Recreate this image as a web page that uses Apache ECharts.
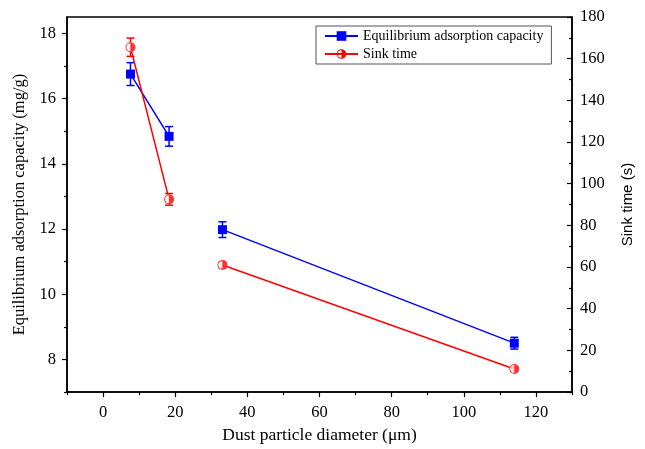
<!DOCTYPE html>
<html><head><meta charset="utf-8">
<script src="https://cdn.jsdelivr.net/npm/echarts@6/dist/echarts.min.js"></script>
<style>html,body{margin:0;padding:0;background:#fff}#c{width:645px;height:449px}</style>
</head><body><div id="c"></div>
<script>
const diameter = [7.6, 18.3, 33.1, 114];
const capacity = [16.75, 14.84, 11.98, 8.5];
const capacityErr = [0.35, 0.3, 0.24, 0.18];
const sinkTime = [165.5, 92.5, 61, 11.1];
const sinkErr = [4.4, 2.8, 1.5, 1.0];
const segments = [[0, 1], [2, 3]];
const xMajorTicks = [0, 20, 40, 60, 80, 100, 120];
const xMinorTicks = [-10, 10, 30, 50, 70, 90, 110, 130];
const yLeftMajor = [8, 10, 12, 14, 16, 18];
const yLeftMinor = [7, 9, 11, 13, 15, 17];
const seriesNames = ['Equilibrium adsorption capacity', 'Sink time'];

const SERIF = '"Liberation Serif", serif';
const SANS = 'Liberation Sans';
const HALF = 'path://M0,-10A10,10,0,1,1,0,10A10,10,0,1,1,0,-10ZM0,-8A8,8,0,1,0,0,8A8,8,0,1,0,0,-8ZM0,-8A8,8,0,0,1,0,8Z';

function lineData(ys) {
  const out = [];
  segments.forEach((seg, k) => {
    if (k > 0) out.push([(diameter[seg[0] - 1] + diameter[seg[0]]) / 2, '-']);
    for (let i = seg[0]; i <= seg[1]; i++) out.push([diameter[i], ys[i]]);
  });
  return out;
}
function errData(ys, es) { return diameter.map((x, i) => [x, ys[i], es[i]]); }
function errRender(color) {
  return function (params, api) {
    const x = api.value(0), y = api.value(1), e = api.value(2);
    const t = api.coord([x, y + e]), b = api.coord([x, y - e]);
    const hw = 4;
    const style = { stroke: color, lineWidth: 1.5, fill: null };
    return { type: 'group', children: [
      { type: 'line', shape: { x1: t[0], y1: t[1], x2: b[0], y2: b[1] }, style },
      { type: 'line', shape: { x1: t[0] - hw, y1: t[1], x2: t[0] + hw, y2: t[1] }, style },
      { type: 'line', shape: { x1: b[0] - hw, y1: b[1], x2: b[0] + hw, y2: b[1] }, style }
    ] };
  };
}
const blackLine = { show: true, onZero: false, lineStyle: { color: '#000', width: 1.5 } };
const noLine = { show: false, onZero: false };
const tickStyle = { color: '#000', width: 1.2 };
const LBL = 16.5;
const lbl = (extra) => Object.assign({ color: '#000', fontFamily: SERIF, fontSize: LBL }, extra);

const chart = echarts.init(document.getElementById('c'));
chart.setOption({
  animation: false,
  backgroundColor: '#fff',
  textStyle: { fontFamily: SERIF },
  grid: { left: 67, right: 73, top: 17, bottom: 56, show: true, borderColor: '#000', borderWidth: 1.5 },
  legend: {
    data: seriesNames, orient: 'vertical', left: 316, top: 26,
    itemWidth: 33, itemHeight: 12, itemGap: 4, padding: [3, 8, 3, 8],
    borderColor: '#555', borderWidth: 1,
    textStyle: { fontFamily: SERIF, fontSize: 14, color: '#000' }
  },
  xAxis: [
    { type: 'value', min: -10, max: 130, position: 'bottom', splitLine: { show: false },
      axisLine: blackLine,
      axisTick: { customValues: xMajorTicks, length: 5, lineStyle: tickStyle },
      axisLabel: lbl({ customValues: xMajorTicks, margin: 12 }),
      name: 'Dust particle diameter (\u03bcm)', nameLocation: 'middle', nameGap: 33,
      nameTextStyle: { fontFamily: SERIF, fontSize: 17.5, color: '#000' } },
    { type: 'value', min: -10, max: 130, position: 'bottom', splitLine: { show: false },
      axisLine: noLine, axisLabel: { show: false },
      axisTick: { customValues: xMinorTicks, length: 3, lineStyle: tickStyle } }
  ],
  yAxis: [
    { type: 'value', min: 7, max: 18.5, position: 'left', splitLine: { show: false },
      axisLine: blackLine,
      axisTick: { customValues: yLeftMajor, length: 5, lineStyle: tickStyle },
      axisLabel: lbl({ customValues: yLeftMajor, margin: 11 }),
      name: 'Equilibrium adsorption capacity (mg/g)', nameLocation: 'middle', nameGap: 33,
      nameTextStyle: { fontFamily: SERIF, fontSize: 16.5, color: '#000' } },
    { type: 'value', min: 0, max: 180, interval: 20, position: 'right', splitLine: { show: false },
      axisLine: blackLine,
      axisTick: { inside: true, length: 5, lineStyle: tickStyle },
      minorTick: { show: true, splitNumber: 2, length: 3, lineStyle: tickStyle },
      axisLabel: lbl({ margin: 8 }),
      name: 'Sink time (s)', nameLocation: 'middle', nameGap: 48,
      nameTextStyle: { fontFamily: SANS, fontSize: 15, color: '#000' } },
    { type: 'value', min: 7, max: 18.5, position: 'left', splitLine: { show: false },
      axisLine: noLine, axisLabel: { show: false },
      axisTick: { customValues: yLeftMinor, length: 3, lineStyle: tickStyle } }
  ],
  series: [
    { type: 'custom', name: 'capErr', yAxisIndex: 0, renderItem: errRender('#0000ff'),
      data: errData(capacity, capacityErr), z: 2, silent: true },
    { type: 'custom', name: 'sinkErr', yAxisIndex: 1, renderItem: errRender('#ff0000'),
      data: errData(sinkTime, sinkErr), z: 2, silent: true },
    { type: 'line', name: seriesNames[0], yAxisIndex: 0, data: lineData(capacity),
      symbol: 'rect', symbolSize: 9, connectNulls: false,
      itemStyle: { color: '#0000ff' }, lineStyle: { color: '#0000ff', width: 1.5 }, z: 3 },
    { type: 'line', name: seriesNames[1], yAxisIndex: 1, data: lineData(sinkTime),
      symbol: HALF, showSymbol: false, connectNulls: false,
      itemStyle: { color: '#ff0000' }, lineStyle: { color: '#ff0000', width: 1.5 }, z: 3 },
    { type: 'scatter', name: 'sinkBg', yAxisIndex: 1, data: diameter.map((x, i) => [x, sinkTime[i]]),
      symbol: 'circle', symbolSize: 10, itemStyle: { color: '#fff' }, z: 4, silent: true },
    { type: 'scatter', name: 'sinkMark', yAxisIndex: 1, data: diameter.map((x, i) => [x, sinkTime[i]]),
      symbol: HALF, symbolSize: 10, itemStyle: { color: '#ff0000' }, z: 5, silent: true }
  ]
});
</script></body></html>
